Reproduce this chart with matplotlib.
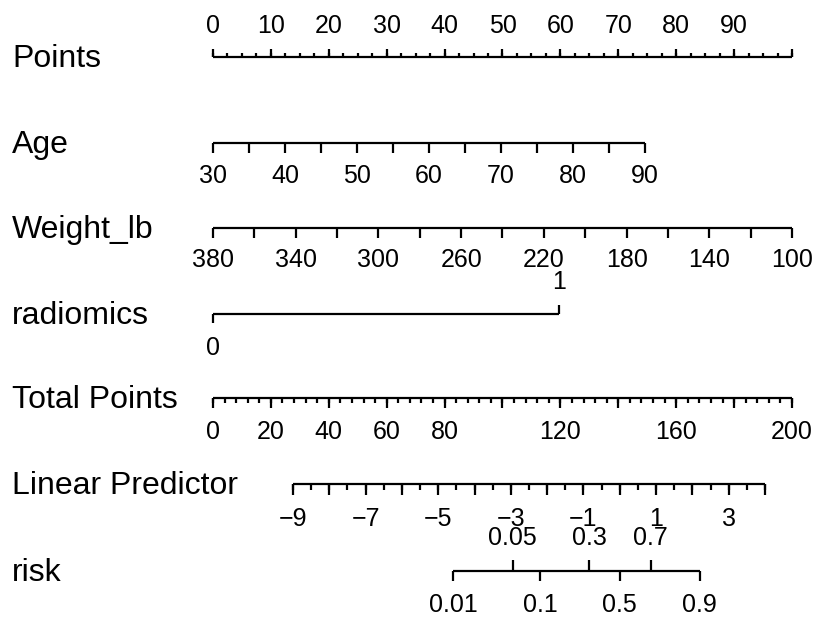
import numpy as np
import matplotlib
matplotlib.use("Agg")
import matplotlib.pyplot as plt

plt.rcParams['font.family'] = ['Liberation Sans', 'DejaVu Sans']

# ---- data ----
var_names = ["Points", "Age", "Weight_lb", "radiomics",
             "Total Points", "Linear Predictor", "risk"]

points_major = [0, 10, 20, 30, 40, 50, 60, 70, 80, 90, 100]
points_labels = [0, 10, 20, 30, 40, 50, 60, 70, 80, 90]

age_ticks = [30, 35, 40, 45, 50, 55, 60, 65, 70, 75, 80, 85, 90]
age_labels = [30, 40, 50, 60, 70, 80, 90]
age_max_points = 74.6          # points given at age 90

weight_ticks = [380, 360, 340, 320, 300, 280, 260, 240, 220,
                200, 180, 160, 140, 120, 100]
weight_labels = [380, 340, 300, 260, 220, 180, 140, 100]
weight_max_points = 100.0      # points at 100 lb

radiomics_levels = [0, 1]
radiomics_points = [0.0, 59.8]

total_major = [0, 20, 40, 60, 80, 100, 120, 140, 160, 180, 200]
total_labels = [0, 20, 40, 60, 80, 120, 160, 200]

lp_major = [-9, -8, -7, -6, -5, -4, -3, -2, -1, 0, 1, 2, 3, 4]
lp_labels = [-9, -7, -5, -3, -1, 1, 3]
lp_zero_total = 140.5          # total points where linear predictor = 0
total_per_lp = 12.54           # total points per unit of linear predictor

risk_below = [0.01, 0.1, 0.5, 0.9]
risk_above = [0.05, 0.3, 0.7]


# ---- scales ----
def age_pts(a):
    return (np.asarray(a, float) - 30) * age_max_points / 60.0

def weight_pts(w):
    return (380 - np.asarray(w, float)) * weight_max_points / 280.0

def total_pts(t):
    return np.asarray(t, float) / 2.0

def lp_pts(lp):
    return total_pts(lp_zero_total + np.asarray(lp, float) * total_per_lp)

def risk_pts(p):
    p = np.asarray(p, float)
    return lp_pts(np.log(p / (1 - p)))


fig = plt.figure(figsize=(8.2, 6.17), dpi=100)
ax = fig.add_axes([0, 0, 1, 1])
# x in "Points" units (0 -> 213 px, 100 -> 792 px), y in pixels
ppx = 5.79
ax.set_xlim(-213 / ppx, (820 - 213) / ppx)
ax.set_ylim(617, 0)
ax.axis('off')

LW = 1.6
FS_TICK = 18
FS_VAR = 23


def hline(y, x0, x1):
    ax.plot([x0, x1], [y, y], color='black', lw=LW, solid_capstyle='butt')


def ticks(y, xs, length, up=False):
    s = -1 if up else 1
    for x in np.atleast_1d(xs):
        ax.plot([x, x], [y, y + s * length], color='black', lw=LW,
                solid_capstyle='butt')


def labels(y, xs, texts, off, up=False):
    s = -1 if up else 1
    for x, t in zip(np.atleast_1d(xs), texts):
        ax.text(x, y + s * off, t, ha='center', va='center',
                fontsize=FS_TICK)


def fmt(v):
    return str(v).replace('-', '\u2212')


rows_y = [57, 143, 228, 314, 398, 484, 571]
for name, y in zip(var_names, rows_y):
    ax.text(-201 / ppx, y + 2, name, ha='left', va='center', fontsize=FS_VAR)

# Points
y = rows_y[0]
hline(y, 0, 100)
ticks(y, np.arange(0, 100.01, 2.5), 4, up=True)
ticks(y, points_major, 8, up=True)
labels(y, points_labels, [fmt(v) for v in points_labels], 31, up=True)

# Age
y = rows_y[1]
hline(y, age_pts(30), age_pts(90))
ticks(y, age_pts(age_ticks), 10)
labels(y, age_pts(age_labels), [fmt(v) for v in age_labels], 33)

# Weight
y = rows_y[2]
hline(y, weight_pts(380), weight_pts(100))
ticks(y, weight_pts(weight_ticks), 10)
labels(y, weight_pts(weight_labels), [fmt(v) for v in weight_labels], 32)

# radiomics
y = rows_y[3]
hline(y, radiomics_points[0], radiomics_points[1])
ticks(y, radiomics_points[0], 9)
ticks(y, radiomics_points[1], 9, up=True)
labels(y, [radiomics_points[0]], [str(radiomics_levels[0])], 34)
labels(y, [radiomics_points[1]], [str(radiomics_levels[1])], 32, up=True)

# Total Points
y = rows_y[4]
hline(y, total_pts(0), total_pts(200))
ticks(y, total_pts(np.arange(0, 200.01, 4)), 5)
ticks(y, total_pts(total_major), 10)
labels(y, total_pts(total_labels), [fmt(v) for v in total_labels], 34)

# Linear Predictor
y = rows_y[5]
hline(y, lp_pts(-9), lp_pts(4))
ticks(y, lp_pts(np.arange(-9, 4.01, 0.5)), 5.5)
ticks(y, lp_pts(lp_major), 11)
labels(y, lp_pts(lp_labels), [fmt(v) for v in lp_labels], 35)

# risk
y = rows_y[6]
hline(y, risk_pts(0.01), risk_pts(0.9))
ticks(y, risk_pts(risk_below), 10)
ticks(y, risk_pts(risk_above), 11, up=True)
labels(y, risk_pts(risk_below), [str(v) for v in risk_below], 34)
labels(y, risk_pts(risk_above), [str(v) for v in risk_above], 33, up=True)

fig.savefig("out.png", dpi=100)
